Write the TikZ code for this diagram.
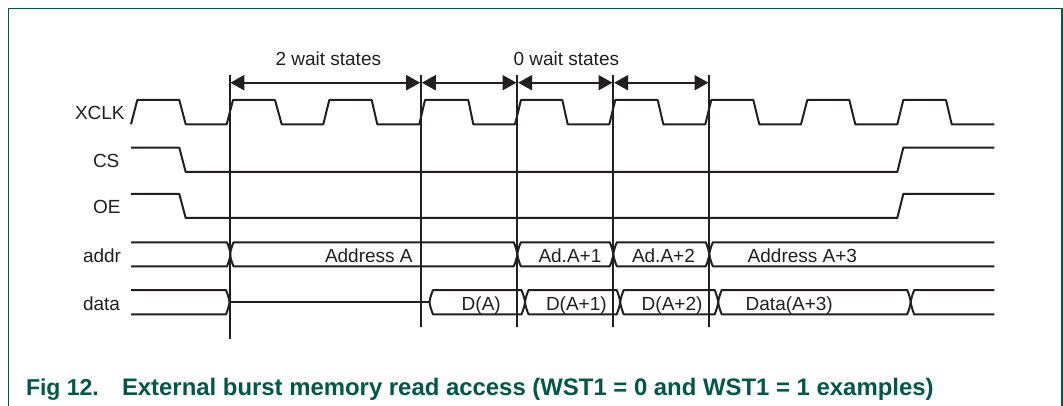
\documentclass[tikz,border=0pt]{standalone}
\usepackage{fontspec}
\setmainfont{Liberation Sans}
\usetikzlibrary{arrows.meta}
\definecolor{nxpgreen}{RGB}{0,88,72}
\definecolor{ink}{RGB}{35,31,32}
\tikzset{
  wave/.style={draw=ink,line width=2pt,line join=round},
  marker/.style={draw=ink,line width=2pt},
  spanarrow/.style={draw=ink,line width=2pt,{Triangle[length=14pt,width=15pt]}-{Triangle[length=14pt,width=15pt]},shorten <=0.8pt,shorten >=0.8pt},
  lbl/.style={anchor=base west,inner sep=0pt,outer sep=0pt,text=ink,font=\fontsize{19}{19}\selectfont},
  captext/.style={anchor=base west,inner sep=0pt,outer sep=0pt,text=nxpgreen,font=\fontsize{23}{23}\selectfont\bfseries},
  captitle/.style={anchor=base west,inner sep=0pt,outer sep=0pt,text=nxpgreen,font=\fontsize{23.9}{23.9}\selectfont\bfseries},
}
% closed bus segment with bowed ends: left, right, top, bottom
\newcommand{\busclosed}[4]{%
  \pgfmathsetmacro{\ymid}{(#3+#4)/2}%
  \draw[wave] (#1,\ymid) .. controls (#1+0.3,\ymid-3) and (#1+1.8,#3+4) .. (#1+3.5,#3)
    -- (#2-3.5,#3) .. controls (#2-1.8,#3+4) and (#2-0.3,\ymid-3) .. (#2,\ymid)
    .. controls (#2-0.3,\ymid+3) and (#2-1.8,#4-4) .. (#2-3.5,#4)
    -- (#1+3.5,#4) .. controls (#1+1.8,#4-4) and (#1+0.3,\ymid+3) .. (#1,\ymid);}
% bus open on the right
\newcommand{\busopenright}[4]{%
  \pgfmathsetmacro{\ymid}{(#3+#4)/2}%
  \draw[wave] (#2,#3) -- (#1+3.5,#3) .. controls (#1+1.8,#3+4) and (#1+0.3,\ymid-3) .. (#1,\ymid)
    .. controls (#1+0.3,\ymid+3) and (#1+1.8,#4-4) .. (#1+3.5,#4) -- (#2,#4);}
% bus open on the left
\newcommand{\busopenleft}[4]{%
  \pgfmathsetmacro{\ymid}{(#3+#4)/2}%
  \draw[wave] (#1,#3) -- (#2-3.5,#3) .. controls (#2-1.8,#3+4) and (#2-0.3,\ymid-3) .. (#2,\ymid)
    .. controls (#2-0.3,\ymid+3) and (#2-1.8,#4-4) .. (#2-3.5,#4) -- (#1,#4);}
\begin{document}
\begin{tikzpicture}[x=1pt,y=-1pt]
\useasboundingbox (0,0) rectangle (1063,406);
\fill[white] (0,0) rectangle (1063,406);
% frame, open at the bottom
\draw[nxpgreen,line width=1.2pt] (8.5,406) -- (8.5,8.5) -- (1062,8.5) -- (1062,406);

% timing markers
\coordinate (t0top) at (229.5,75);  \coordinate (t0bot) at (229.5,339);
\coordinate (t1top) at (421,75);    \coordinate (t1bot) at (421,327);
\coordinate (t2top) at (517.3,75);  \coordinate (t2bot) at (517.3,327);
\coordinate (t3top) at (613.3,75);  \coordinate (t3bot) at (613.3,327);
\coordinate (t4top) at (709.3,75);  \coordinate (t4bot) at (709.3,327);
\draw[marker] (t0top) -- (t0bot);
\draw[marker] (t1top) -- (t1bot);
\draw[marker] (t2top) -- (t2bot);
\draw[marker] (t3top) -- (t3bot);
\draw[marker] (t4top) -- (t4bot);
\coordinate (a0) at (229.5,82.7);
\coordinate (a1) at (421,82.7);
\coordinate (a2) at (517.3,82.7);
\coordinate (a3) at (613.3,82.7);
\coordinate (a4) at (709.3,82.7);
\draw[spanarrow] (a0) -- (a1);
\draw[spanarrow] (a1) -- (a2);
\draw[spanarrow] (a2) -- (a3);
\draw[spanarrow] (a3) -- (a4);

% XCLK
\draw[wave] (131,124.3) -- (137.3,100) -- (179.3,100) -- (185.7,124.3) -- (226.7,124.3)
  -- (233,100) -- (275,100) -- (281.7,124.3) -- (323.3,124.3)
  -- (329.3,100) -- (371.7,100) -- (377.3,124.3) -- (419.3,124.3)
  -- (425,100) -- (468.3,100) -- (473.3,124.3) -- (515,124.3)
  -- (521,100) -- (562.3,100) -- (567.7,124.3) -- (609.3,124.3)
  -- (615.3,100) -- (657.7,100) -- (663.3,124.3) -- (705.3,124.3)
  -- (711.3,100) -- (753.3,100) -- (759.3,124.3) -- (801,124.3)
  -- (807.3,100) -- (849.3,100) -- (855.3,124.3) -- (897.3,124.3)
  -- (903.3,100) -- (946,100) -- (951.7,124.3) -- (994.3,124.3);
% CS
\draw[wave] (131,147.7) -- (179.3,147.7) -- (185.7,172) -- (897.3,172) -- (903.3,147.7) -- (994.3,147.7);
% OE
\draw[wave] (131,194) -- (179.3,194) -- (185.7,218) -- (897.3,218) -- (903.3,194) -- (994.3,194);
% addr
\busopenleft{131}{230.5}{242.3}{266.3}
\busclosed{230}{517.3}{242.3}{266.3}
\busclosed{517.3}{613.3}{242.3}{266.3}
\busclosed{613.3}{709.3}{242.3}{266.3}
\busopenright{709.3}{994.3}{242.3}{266.3}
% data
\busopenleft{131}{229.5}{290}{314.3}
\draw[wave] (229.5,302.2) -- (429.5,302.2);
\busclosed{429.5}{525}{290}{314.3}
\busclosed{525}{620.2}{290}{314.3}
\busclosed{620.2}{718.2}{290}{314.3}
\busclosed{718.2}{910.7}{290}{314.3}
\busopenright{910.7}{994.3}{290}{314.3}

% labels
\node[lbl] (twowait) at (275.5,66) {2 wait states};
\node[lbl] (zerowait) at (513.5,66) {0 wait states};
\node[lbl] (xclk) at (75,120) {XCLK};
\node[lbl] (cs) at (93,168) {CS};
\node[lbl] (oe) at (93,213.5) {OE};
\node[lbl] (addr) at (83,262) {addr};
\node[lbl] (data) at (83,310) {data};
\node[lbl] (adra) at (325,262) {Address A};
\node[lbl] (adrb) at (538.5,262) {Ad.A+1};
\node[lbl] (adrc) at (632,262) {Ad.A+2};
\node[lbl] (adrd) at (747.7,262) {Address A+3};
\node[lbl] (da) at (461.7,310) {D(A)};
\node[lbl] (db) at (546,310) {D(A+1)};
\node[lbl] (dc) at (641.7,310) {D(A+2)};
\node[lbl] (dd) at (745.7,310) {Data(A+3)};
% caption
\node[captext] (fignum) at (26,395) {Fig 12.};
\node[captitle] (figtitle) at (122,395) {External burst memory read access (WST1 = 0 and WST1 = 1 examples)};
\end{tikzpicture}
\end{document}
